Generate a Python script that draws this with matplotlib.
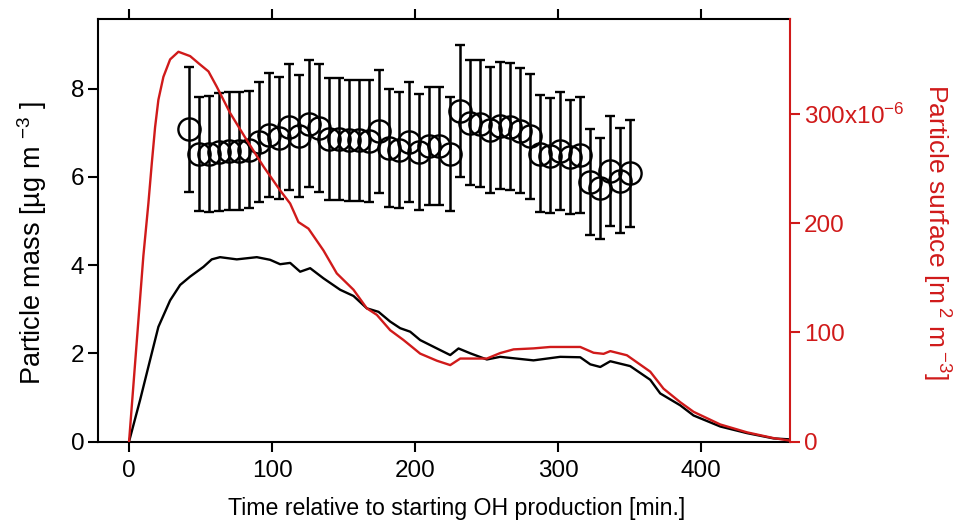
import matplotlib
matplotlib.use("Agg")
import matplotlib.pyplot as plt
from matplotlib.ticker import FuncFormatter, FixedLocator

plt.rcParams['font.family'] = ['Liberation Sans', 'DejaVu Sans']
plt.rcParams['mathtext.fontset'] = 'custom'
plt.rcParams['mathtext.rm'] = 'Liberation Sans'
plt.rcParams['mathtext.it'] = 'Liberation Sans:italic'
plt.rcParams['mathtext.bf'] = 'Liberation Sans:bold'

RED = '#d01a1a'

# ---- data ----
mass_t = [0, 7.7, 14.7, 20.5, 28.7, 35.7, 42.7, 52, 57.8, 63.6, 75.3, 89.3, 98.6,
          105.6, 112.6, 119.6, 126.6, 135.9, 147.6, 156.9, 166.2, 174.4, 182.5,
          189.5, 196.5, 203.5, 215.2, 224.5, 230.3, 238.5, 250.1, 259.4, 282.7,
          301.4, 315.4, 322.4, 329.4, 336.4, 350.3, 364.3, 371.3, 385.3, 394.6,
          413.3, 432, 450.6, 461]
mass_v = [0, 0.94, 1.85, 2.6, 3.2, 3.55, 3.74, 3.96, 4.13, 4.18, 4.13, 4.18, 4.12,
          4.02, 4.05, 3.85, 3.93, 3.70, 3.44, 3.30, 3.02, 2.94, 2.72,
          2.57, 2.49, 2.30, 2.11, 1.96, 2.11, 2.0, 1.86, 1.92, 1.84,
          1.92, 1.91, 1.75, 1.69, 1.82, 1.71, 1.40, 1.09, 0.82, 0.59,
          0.34, 0.19, 0.07, 0.05]

surf_t = [0, 10, 13.5, 15.9, 18.2, 20.5, 24, 28.7, 34.5, 42.7, 49, 55.5, 61.3,
          70.6, 82.3, 93.9, 105.6, 112.6, 118.4, 125.4, 135.9, 145.2, 156.9,
          166.2, 173.2, 182.5, 191.8, 196.5, 203.5, 215.2, 224.5, 231.5, 250.1,
          259.4, 268.8, 282.7, 294.4, 315.4, 324.7, 331.7, 336.4, 348, 364.3,
          373.6, 385.3, 394.6, 413.3, 432, 450.6, 461]
surf_v = [0, 170, 218, 255, 288, 313, 334, 350, 357, 353, 346, 339, 325,
          301, 276, 252, 230, 218, 201, 195, 175, 154, 139,
          122, 116, 102, 93, 88, 80.5, 74, 70, 76, 76,
          81, 84.4, 85.3, 86.6, 86.6, 81.3, 80.3, 82.8, 79, 64,
          48.4, 36, 27.2, 15.6, 8.4, 3.1, 1]

pt_t = [42, 49, 56, 63, 70, 77, 84, 91, 98, 105, 112, 119, 126, 133, 140,
        147, 154, 161, 168, 175, 182, 189, 196, 203, 210, 217, 224, 231, 238,
        245, 252, 259, 266, 273, 280, 287, 294, 301, 308, 315, 322, 329, 336,
        343, 350]
pt_v = [7.08, 6.52, 6.52, 6.57, 6.59, 6.59, 6.62, 6.80, 6.95, 6.89, 7.13, 6.93,
        7.21, 7.11, 6.86, 6.86, 6.83, 6.83, 6.82, 7.03, 6.66, 6.61, 6.80, 6.57,
        6.70, 6.70, 6.52, 7.50, 7.23, 7.21, 7.06, 7.16, 7.14, 7.05, 6.92, 6.53,
        6.48, 6.59, 6.46, 6.50, 5.88, 5.74, 6.13, 5.91, 6.08]
pt_err = [1.42, 1.30, 1.31, 1.34, 1.34, 1.34, 1.32, 1.36, 1.40, 1.38, 1.43, 1.38,
          1.44, 1.45, 1.38, 1.38, 1.37, 1.37, 1.38, 1.40, 1.34, 1.32, 1.36, 1.32,
          1.34, 1.34, 1.30, 1.50, 1.42, 1.43, 1.43, 1.44, 1.44, 1.42, 1.41, 1.32,
          1.30, 1.34, 1.29, 1.31, 1.20, 1.15, 1.25, 1.19, 1.22]

x_ticks = [0, 100, 200, 300, 400]
left_ticks = [0, 2, 4, 6, 8]
right_ticks = [0, 100, 200, 300]

# ---- figure ----
fig = plt.figure(figsize=(9.6, 5.28), dpi=100)
ax = fig.add_axes([0.1024, 0.1638, 0.7205, 0.8002])
ax2 = ax.twinx()

ax.plot(mass_t, mass_v, color='black', lw=1.7, zorder=3)
ax.errorbar(pt_t, pt_v, yerr=pt_err, fmt='o', mfc='none', mec='black', mew=1.7,
            ms=16, ecolor='black', elinewidth=1.8, capsize=3.5, capthick=1.8,
            zorder=4)
ax2.plot(surf_t, surf_v, color=RED, lw=1.7)

ax.set_xlim(-21.5, 462)
ax.set_ylim(0, 9.58)
ax2.set_ylim(0, 387)

ax.xaxis.set_major_locator(FixedLocator(x_ticks))
ax.yaxis.set_major_locator(FixedLocator(left_ticks))
ax2.yaxis.set_major_locator(FixedLocator(right_ticks))
ax2.yaxis.set_major_formatter(FuncFormatter(
    lambda v, p: (r'%dx10$^{-6}$' % v) if v == 300 else '%d' % v))

tfs = 17.5
xfs = 16.7
yfs = 19.5
ax.tick_params(axis='both', which='major', direction='out', length=7, width=1.5,
               labelsize=tfs, pad=3, top=True, labeltop=False, color='black')
ax.tick_params(axis='x', pad=6)
ax2.tick_params(axis='y', direction='out', length=7, width=1.5, labelsize=tfs,
                colors=RED, pad=3)

for s in ['left', 'bottom', 'top']:
    ax.spines[s].set_linewidth(1.5)
ax.spines['right'].set_visible(False)
for s in ['left', 'bottom', 'top']:
    ax2.spines[s].set_visible(False)
ax2.spines['right'].set_color(RED)
ax2.spines['right'].set_linewidth(1.5)

ax.set_xlabel('Time relative to starting OH production [min.]', fontsize=xfs,
              va='center', ha='center')
ax.xaxis.set_label_coords(0.5186, -0.1574)
ax.set_ylabel(r'Particle mass [µg m $^{-3}$ ]', fontsize=yfs, va='center',
              ha='center', rotation=90, rotation_mode='anchor')
ax.yaxis.set_label_coords(-0.0958, 0.4686)
ax2.set_ylabel(r'Particle surface [m$\,^{2}$ m$\,^{-3}$]', fontsize=19, color=RED,
               rotation=270, va='center', ha='center', rotation_mode='anchor')
ax2.yaxis.set_label_coords(1.2111, 0.4959)

fig.savefig('out.png', dpi=100)
